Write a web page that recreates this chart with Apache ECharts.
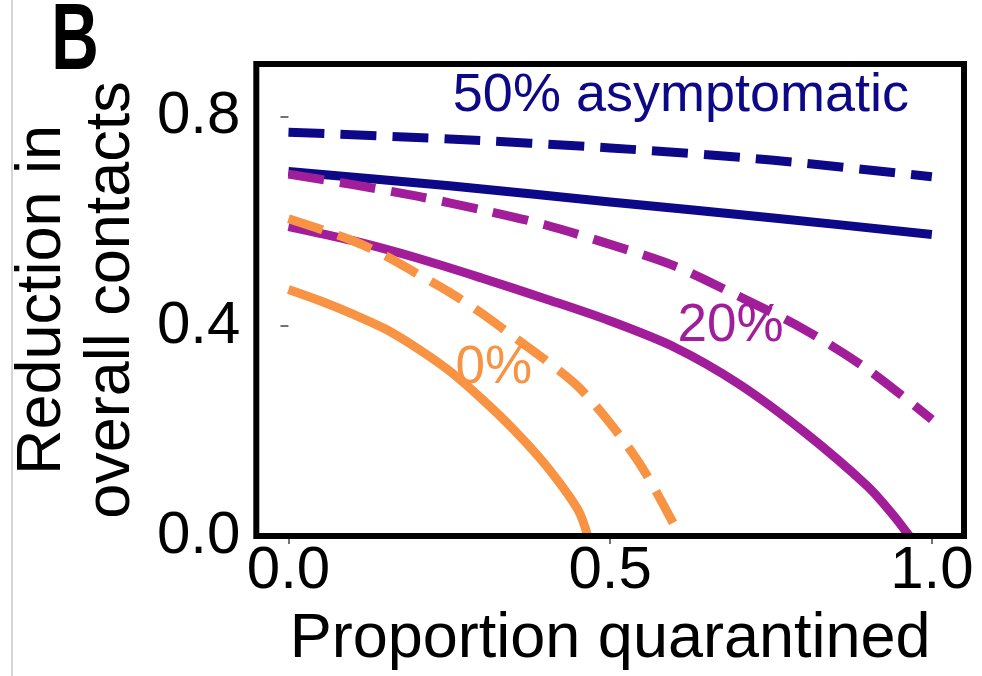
<!DOCTYPE html>
<html>
<head>
<meta charset="utf-8">
<script src="https://cdn.jsdelivr.net/npm/echarts@6/dist/echarts.min.js"></script>
<style>
  html, body { margin: 0; padding: 0; background: #fff; }
  #chart { width: 982px; height: 676px; }
</style>
</head>
<body>
<div id="chart"></div>
<script>
// Proportion quarantined (x) for each curve, and the reduction in overall contacts (y)
const navyDashX   = [0, 0.25, 0.5, 0.75, 1.0];
const navyDashY   = [0.77, 0.757, 0.74, 0.717, 0.685];
const navySolidX  = [0, 0.25, 0.5, 0.75, 1.0];
const navySolidY  = [0.695, 0.668, 0.637, 0.607, 0.575];

const purpleDashX  = [0, 0.1, 0.2, 0.3, 0.4, 0.5, 0.6, 0.7, 0.8, 0.9, 1.0];
const purpleDashY  = [0.69, 0.67, 0.648, 0.622, 0.593, 0.556, 0.515, 0.457, 0.395, 0.318, 0.222];
const purpleSolidX = [0, 0.1, 0.2, 0.3, 0.4, 0.5, 0.6, 0.7, 0.8, 0.9, 0.94, 0.965];
const purpleSolidY = [0.59, 0.563, 0.53, 0.492, 0.452, 0.41, 0.36, 0.29, 0.2, 0.095, 0.04, 0];

const orangeDashX  = [0, 0.05, 0.1, 0.15, 0.2, 0.25, 0.3, 0.35, 0.4, 0.45, 0.5, 0.55, 0.6, 0.607];
const orangeDashY  = [0.605, 0.585, 0.563, 0.535, 0.50, 0.465, 0.425, 0.38, 0.335, 0.285, 0.215, 0.13, 0.02, 0];
const orangeSolidX = [0, 0.05, 0.1, 0.15, 0.2, 0.25, 0.3, 0.35, 0.4, 0.45, 0.465];
const orangeSolidY = [0.47, 0.448, 0.423, 0.395, 0.358, 0.315, 0.262, 0.203, 0.135, 0.05, 0];

// Tick labels
const xTicks = [0, 0.5, 1.0];
const xTickLabels = ['0.0', '0.5', '1.0'];
const yTicks = [0, 0.4, 0.8];
const yTickLabels = ['0.0', '0.4', '0.8'];

// Curve annotations, anchored in data space
const annotationText = ['50% asymptomatic', '20%', '0%'];
const annotationX = [0.61, 0.687, 0.319];
const annotationY = [0.839, 0.40, 0.32];

const NAVY = '#0d0887';
const PURPLE = '#a11d99';
const ORANGE = '#f79342';
const annotationColor = [NAVY, PURPLE, ORANGE];
const FONT = 'Liberation Sans, Arial, sans-serif';

function pairs(xs, ys) { return xs.map((x, i) => [x, ys[i]]); }

function line(name, xs, ys, color, dashed) {
  return {
    name: name,
    type: 'line',
    data: pairs(xs, ys),
    smooth: 0.3,
    symbol: 'none',
    silent: true,
    z: 3,
    lineStyle: {
      color: color,
      width: 9,
      type: dashed ? [36, 16] : 'solid',
      cap: 'butt',
      join: 'round'
    }
  };
}

const chart = echarts.init(document.getElementById('chart'), null, { renderer: 'canvas' });

chart.setOption({
  animation: false,
  backgroundColor: '#fff',
  grid: {
    left: 256, right: 18, top: 64, bottom: 140,
    show: true,
    borderColor: '#000',
    borderWidth: 6,
    backgroundColor: 'transparent',
    z: 10
  },
  xAxis: {
    type: 'value',
    min: -0.05,
    max: 1.05,
    splitLine: { show: false },
    axisLine: { show: false },
    axisTick: {
      show: true, length: 8, customValues: xTicks,
      lineStyle: { color: '#444', width: 1.5 }
    },
    axisLabel: {
      customValues: xTicks,
      formatter: (v) => xTickLabels[xTicks.indexOf(v)] ?? '',
      fontFamily: FONT, fontSize: 60, color: '#000', margin: 5
    },
    name: 'Proportion quarantined',
    nameLocation: 'middle',
    nameGap: 72,
    nameTextStyle: { fontFamily: FONT, fontSize: 63, color: '#000' }
  },
  yAxis: {
    type: 'value',
    min: 0,
    max: 0.9,
    splitLine: { show: false },
    axisLine: { show: false },
    axisTick: {
      show: true, length: 8, customValues: yTicks,
      lineStyle: { color: '#444', width: 1.5 }
    },
    axisLabel: {
      customValues: yTicks,
      formatter: (v) => yTickLabels[yTicks.indexOf(v)] ?? '',
      fontFamily: FONT, fontSize: 60, color: '#000', margin: 16
    },
    name: 'Reduction in\noverall contacts',
    nameLocation: 'middle',
    nameRotate: 90,
    nameGap: 108,
    nameTextStyle: { fontFamily: FONT, fontSize: 63, lineHeight: 69, color: '#000', align: 'center' }
  },
  series: [
    line('50% asymptomatic (dashed)', navyDashX, navyDashY, NAVY, true),
    line('50% asymptomatic', navySolidX, navySolidY, NAVY, false),
    line('20% asymptomatic (dashed)', purpleDashX, purpleDashY, PURPLE, true),
    line('20% asymptomatic', purpleSolidX, purpleSolidY, PURPLE, false),
    line('0% asymptomatic (dashed)', orangeDashX, orangeDashY, ORANGE, true),
    line('0% asymptomatic', orangeSolidX, orangeSolidY, ORANGE, false)
  ]
});

// Panel letter, left rule, and curve annotations
const graphics = [
  {
    type: 'line',
    shape: { x1: 12, y1: 0, x2: 12, y2: 676 },
    style: { stroke: '#d4d4d4', lineWidth: 2 },
    silent: true
  },
  {
    type: 'text',
    x: 75, y: 43,
    scaleX: 0.7,
    style: {
      text: 'B', fontFamily: FONT, fontWeight: 'bold', fontSize: 94,
      fill: '#000', align: 'center', verticalAlign: 'middle'
    },
    silent: true
  }
];
annotationText.forEach((t, i) => {
  const p = chart.convertToPixel({ gridIndex: 0 }, [annotationX[i], annotationY[i]]);
  graphics.push({
    type: 'text',
    x: p[0], y: p[1],
    z: 20,
    style: {
      text: t, fontFamily: FONT, fontSize: i === 0 ? 54 : 53,
      fill: annotationColor[i], align: 'center', verticalAlign: 'middle'
    },
    silent: true
  });
});
chart.setOption({ graphic: graphics });
</script>
</body>
</html>
